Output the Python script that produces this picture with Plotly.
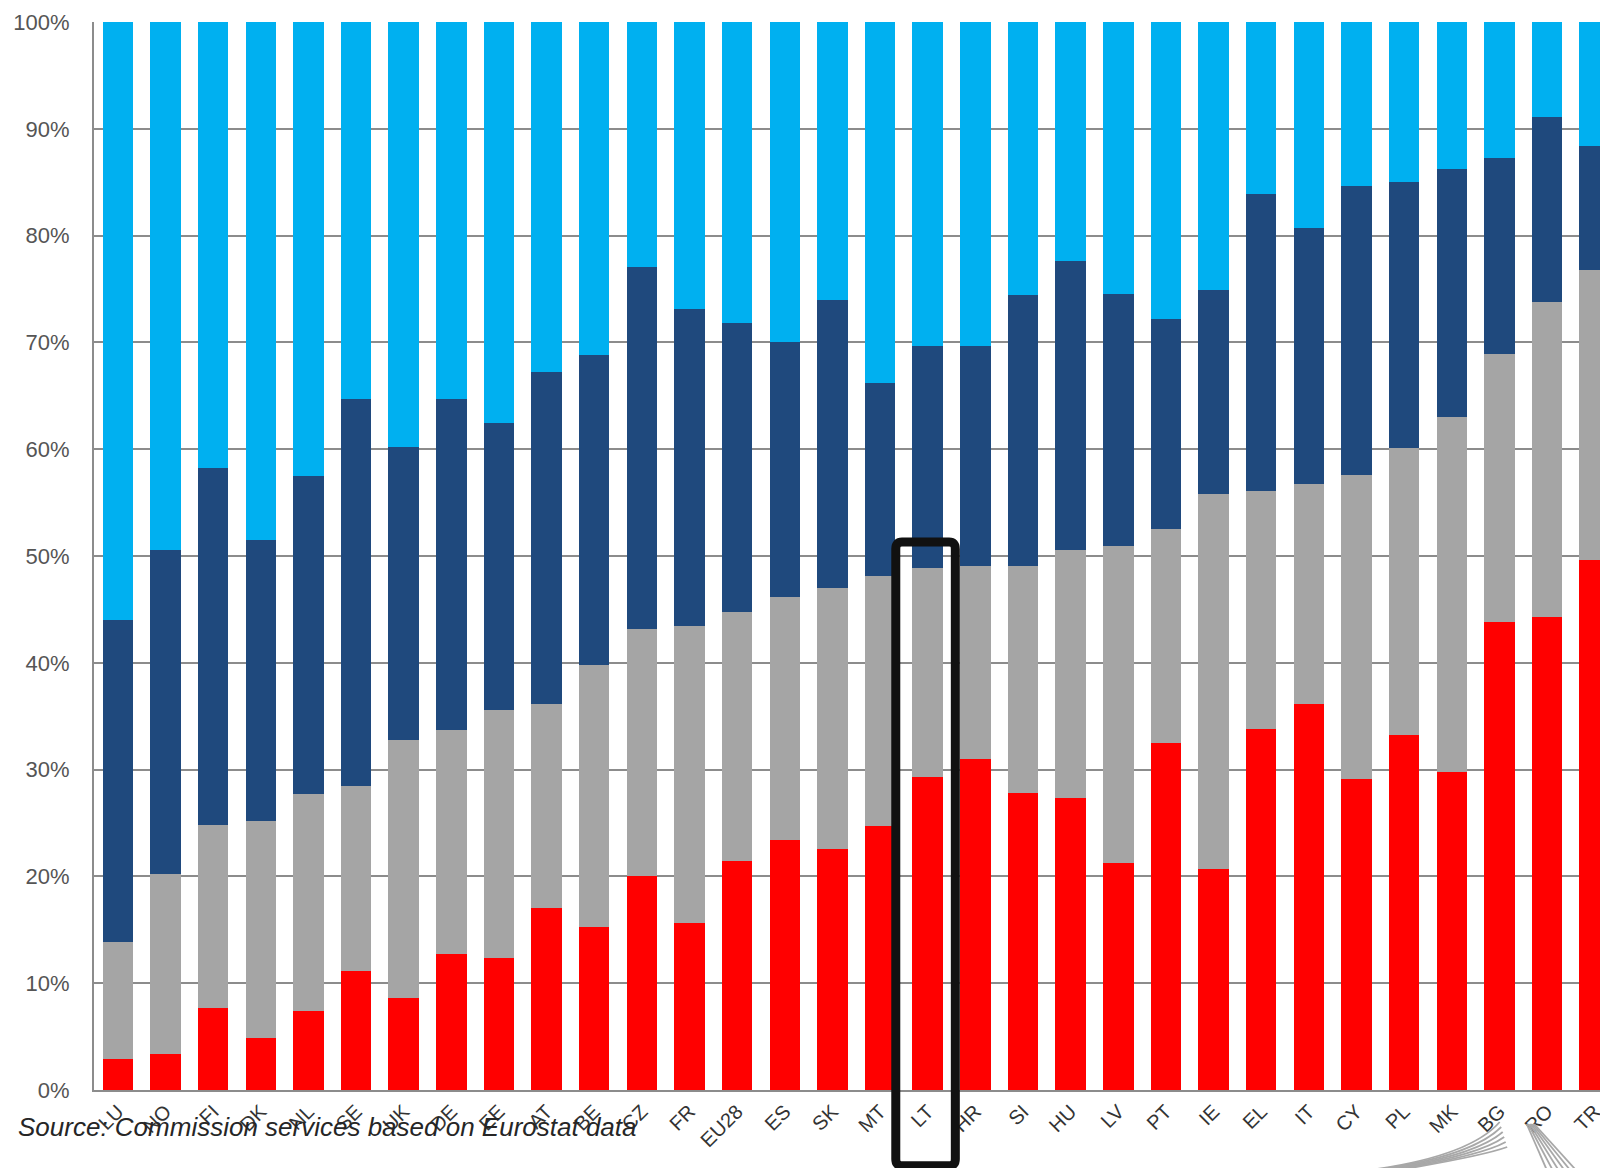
import plotly.graph_objects as go

countries = ["LU", "NO", "FI", "DK", "NL", "SE", "UK", "DE", "EE", "AT", "BE", "CZ", "FR", "EU28",
             "ES", "SK", "MT", "LT", "HR", "SI", "HU", "LV", "PT", "IE", "EL", "IT", "CY", "PL",
             "MK", "BG", "RO", "TR"]

# shares (%) of each segment, bottom to top
red_share = [2.9, 3.4, 7.7, 4.9, 7.4, 11.1, 8.6, 12.7, 12.4, 17.0, 15.3, 20.0, 15.6, 21.4,
             23.4, 22.6, 24.7, 29.3, 31.0, 27.8, 27.3, 21.3, 32.5, 20.7, 33.8, 36.1, 29.1, 33.2,
             29.8, 43.8, 44.3, 49.6]
grey_share = [11.0, 16.8, 17.1, 20.3, 20.3, 17.4, 24.2, 21.0, 23.2, 19.1, 24.5, 23.2, 27.8, 23.4,
              22.8, 24.4, 23.4, 19.6, 18.1, 21.3, 23.3, 29.6, 20.0, 35.1, 22.3, 20.6, 28.5, 26.9,
              33.2, 25.1, 29.5, 27.2]
navy_share = [30.1, 30.4, 33.4, 26.3, 29.8, 36.2, 27.4, 31.0, 26.9, 31.1, 29.0, 33.9, 29.7, 27.0,
              23.8, 27.0, 18.1, 20.8, 20.6, 25.3, 27.0, 23.6, 19.7, 19.1, 27.8, 24.0, 27.0, 24.9,
              23.2, 18.4, 17.3, 11.6]
blue_share = [56.0, 49.4, 41.8, 48.5, 42.5, 35.3, 39.8, 35.3, 37.5, 32.8, 31.2, 22.9, 26.9, 28.2,
              30.0, 26.0, 33.8, 30.3, 30.3, 25.6, 22.4, 25.5, 27.8, 25.1, 16.1, 19.3, 15.4, 15.0,
              13.8, 12.7, 8.9, 11.6]

y_ticks = [0, 10, 20, 30, 40, 50, 60, 70, 80, 90, 100]
y_labels = ["0%", "10%", "20%", "30%", "40%", "50%", "60%", "70%", "80%", "90%", "100%"]
highlight = "LT"
source_text = "Source: Commission services based on Eurostat data"

series = [
    ("Segment 1", red_share, "#FF0000"),
    ("Segment 2", grey_share, "#A5A5A5"),
    ("Segment 3", navy_share, "#1F497D"),
    ("Segment 4", blue_share, "#00B0F0"),
]

x_idx = list(range(len(countries)))
fig = go.Figure()
for name, vals, col in series:
    fig.add_trace(go.Bar(x=x_idx, y=vals, name=name, marker=dict(color=col, line=dict(width=0))))

# highlight frame (rounded corners) around the selected country
hi = countries.index(highlight)
x0, x1 = hi - 0.67, hi + 0.58
y0, y1 = -0.071, 0.513
rx, ry = 0.13, 0.0065
frame = ("M {a},{b} L {c},{b} Q {x1},{y1} {x1},{d} L {x1},{e} Q {x1},{y0} {c},{y0} "
         "L {a},{y0} Q {x0},{y0} {x0},{e} L {x0},{d} Q {x0},{y1} {a},{b} Z").format(
    a=x0 + rx, b=y1, c=x1 - rx, d=y1 - ry, e=y0 + ry, x0=x0, x1=x1, y0=y0, y1=y1)
fig.add_shape(type="path", xref="x", yref="paper", path=frame,
              line=dict(color="#111111", width=9), layer="above")

# partial logo swooshes at the bottom right (decoration)
def px(X):
    return (X - 94.3) / 1514.0

def py(Y):
    return (1090.0 - Y) / 1068.0

for k in range(6):
    x_start, y_start = 1335 + k * 8, 1174
    cx, cy = 1465 + k * 3, 1162 - k * 1
    x_end, y_end = 1500 + k * 1.5, 1122 + k * 5
    path = "M {:.5f},{:.5f} Q {:.5f},{:.5f} {:.5f},{:.5f}".format(
        px(x_start), py(y_start), px(cx), py(cy), px(x_end), py(y_end))
    fig.add_shape(type="path", xref="paper", yref="paper", path=path,
                  line=dict(color="#A8A8A8", width=1.8), layer="above")
for k in range(6):
    path = "M {:.5f},{:.5f} L {:.5f},{:.5f}".format(
        px(1527 + k * 1.5), py(1124), px(1548 + k * 6), py(1172))
    fig.add_shape(type="path", xref="paper", yref="paper", path=path,
                  line=dict(color="#A8A8A8", width=1.8), layer="above")

fig.add_annotation(text="<i>" + source_text + "</i>", xref="paper", yref="paper",
                   x=-0.0515, y=-0.0346, xanchor="left", yanchor="middle", showarrow=False,
                   font=dict(family="Liberation Sans, Arial", size=26, color="#262626"))

fig.update_layout(
    width=1600, height=1160,
    margin=dict(l=86, r=0, t=14, b=78),
    barmode="stack", bargap=0.36,
    plot_bgcolor="white", paper_bgcolor="white",
    showlegend=False,
    font=dict(family="Liberation Sans, Arial", color="#404040"),
)
fig.update_xaxes(
    range=[-0.5, 31.28], tickmode="array", tickvals=x_idx, ticktext=countries,
    tickangle=-45, tickfont=dict(size=20, color="#333333"),
    showline=True, linecolor="#8c8c8c", linewidth=2, showgrid=False, ticks="",
)
fig.update_yaxes(
    range=[0, 100], tickmode="array", tickvals=y_ticks, ticktext=y_labels,
    tickfont=dict(size=22, color="#555555"), ticklabelstandoff=18,
    showline=True, linecolor="#8c8c8c", linewidth=2,
    showgrid=True, gridcolor="#8c8c8c", gridwidth=1.5, zeroline=False, ticks="",
)

fig.write_html("out.html")
